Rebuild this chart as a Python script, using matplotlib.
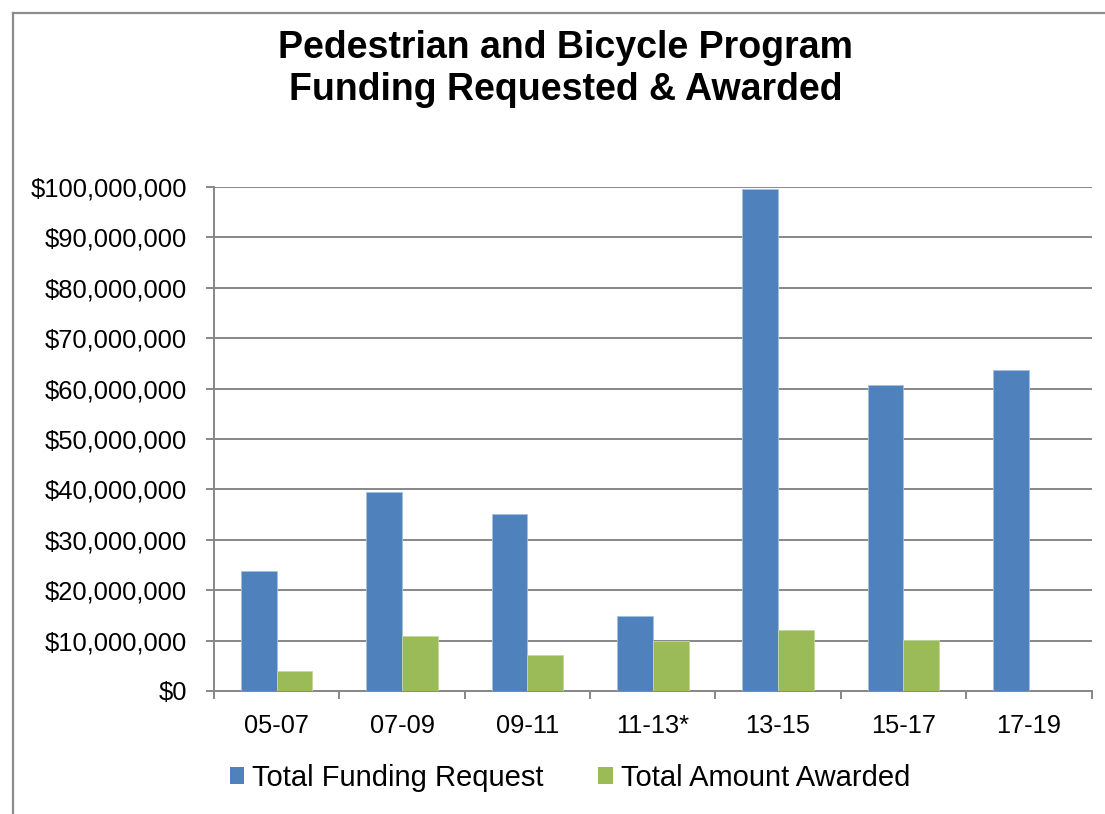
import matplotlib
matplotlib.use("Agg")
import matplotlib.pyplot as plt
from matplotlib.lines import Line2D
from matplotlib.patches import Patch
import numpy as np

plt.rcParams['font.family'] = ['Liberation Sans', 'DejaVu Sans']

categories = ["05-07", "07-09", "09-11", "11-13*", "13-15", "15-17", "17-19"]
total_request = [23.9e6, 39.5e6, 35.1e6, 14.9e6, 99.6e6, 60.7e6, 63.7e6]
total_awarded = [4.0e6, 10.9e6, 7.1e6, 9.9e6, 12.2e6, 10.1e6, 0]
series_names = ["Total Funding Request", "Total Amount Awarded"]
yticks = list(range(0, 100_000_001, 10_000_000))

blue = "#4F81BD"
green = "#9BBB59"
grid = "#878787"

W, H = 1105, 814
fig = plt.figure(figsize=(W / 100, H / 100), dpi=100)
ax = fig.add_axes([214 / W, 1 - 691 / H, (1091.5 - 214) / W, (691 - 187) / H])

x = np.arange(len(categories))
bw = 1 / 1.75 / 2
ax.bar(x - bw / 2, total_request, width=bw, color=blue, edgecolor="#A7C0DE", linewidth=0.6, zorder=3)
ax.bar(x + bw / 2, total_awarded, width=bw, color=green, edgecolor="#C5D89E", linewidth=0.6, zorder=3)

ax.set_xlim(-0.5, len(categories) - 0.5)
ax.set_ylim(0, 100_000_000)
ax.set_yticks(yticks)
ax.set_yticklabels([f"${v:,.0f}" for v in yticks], fontsize=18.4)
ax.yaxis.grid(True, color=grid, linewidth=1.4, zorder=0)
ax.set_axisbelow(True)

ax.set_xticks(x)
ax.set_xticklabels(categories, fontsize=18.3)
ax.set_xticks(np.arange(-0.5, len(categories)), minor=True)
ax.tick_params(axis='x', which='major', length=0, pad=16.5)
ax.tick_params(axis='x', which='minor', length=6, width=1.4, color=grid, direction='out')
ax.tick_params(axis='y', length=6, width=1.4, color=grid, direction='out', pad=13.5)

for s in ['top', 'right']:
    ax.spines[s].set_visible(False)
for s in ['left', 'bottom']:
    ax.spines[s].set_color(grid)
    ax.spines[s].set_linewidth(1.4)

fig.text(566 / W, 1 - 48 / H, "Pedestrian and Bicycle Program", ha='center', va='center',
         fontsize=27, fontweight='bold')
fig.text(566 / W, 1 - 90 / H, "Funding Requested & Awarded", ha='center', va='center',
         fontsize=27, fontweight='bold')

handles = [Patch(facecolor=blue, edgecolor='none'), Patch(facecolor=green, edgecolor='none')]
fig.legend(handles, series_names, loc='center', bbox_to_anchor=(570 / W, 1 - 778 / H),
           ncol=2, frameon=False, fontsize=21, handlelength=0.5, handleheight=0.5,
           handletextpad=0.28, columnspacing=1.86, borderpad=0, borderaxespad=0)

# outer chart border (top and left visible)
fig.add_artist(Line2D([13 / W, 1.0], [1 - 13 / H, 1 - 13 / H], transform=fig.transFigure,
                      color="#8C8C8C", linewidth=1.6))
fig.add_artist(Line2D([13 / W, 13 / W], [1 - 13 / H, 0], transform=fig.transFigure,
                      color="#8C8C8C", linewidth=1.6))

fig.savefig("out.png", dpi=100)
